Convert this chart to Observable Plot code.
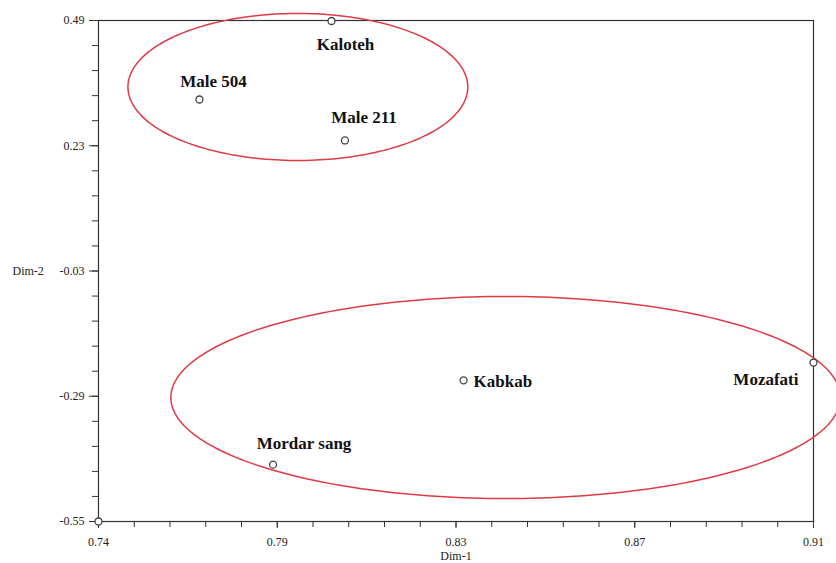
<!DOCTYPE html>
<html><head><meta charset="utf-8">
<script src="https://cdn.jsdelivr.net/npm/d3@7"></script>
<script src="https://cdn.jsdelivr.net/npm/@observablehq/plot@0.6"></script>
<style>
body{margin:0;background:#fff}
#chart svg, #chart svg text { font-family: "Liberation Serif", "DejaVu Serif", serif !important; }
</style>
</head><body><div id="chart"></div>
<script>
// Data
const cultivars = ["Kaloteh", "Male 504", "Male 211", "Kabkab", "Mozafati", "Mordar sang", ""];
const dim1 = [0.7954, 0.7640, 0.7986, 0.8268, 0.9100, 0.7815, 0.7400];
const dim2 = [0.489, 0.326, 0.241, -0.257, -0.220, -0.432, -0.550];

const xTickValues = [0.74, 0.7825, 0.825, 0.8675, 0.91];
const xTickLabels = ["0.74", "0.79", "0.83", "0.87", "0.91"];
const yTickValues = [0.49, 0.23, -0.03, -0.29, -0.55];
const yTickLabels = ["0.49", "0.23", "-0.03", "-0.29", "-0.55"];

// group ellipses (data units)
const groupCx = [0.7874, 0.8368];
const groupCy = [0.352, -0.2926];
const groupRx = [0.0404, 0.0796];
const groupRy = [0.1526, 0.2097];

// label placement (styling)
const labelStyle = {
  "Kaloteh": {dx: 14, dy: 24, anchor: "middle"},
  "Male 504": {dx: 14, dy: -18, anchor: "middle"},
  "Male 211": {dx: 19, dy: -23, anchor: "middle"},
  "Kabkab": {dx: 10, dy: 1, anchor: "start"},
  "Mozafati": {dx: -15, dy: 17, anchor: "end"},
  "Mordar sang": {dx: 31, dy: -21, anchor: "middle"}
};

const serif = "Liberation Serif";
const points = cultivars.map((name, i) => ({name, x: dim1[i], y: dim2[i]}));
const ellipse = [];
groupCx.forEach((cx, g) => {
  for (let k = 0; k <= 240; k++) {
    const t = 2 * Math.PI * k / 240;
    ellipse.push({g, x: cx + groupRx[g] * Math.cos(t), y: groupCy[g] + groupRy[g] * Math.sin(t)});
  }
});
const xMinor = d3.range(21).map(i => 0.74 + i * 0.0085);
const yMinor = d3.range(21).map(i => 0.49 - i * 0.052);

const labelMarks = points.filter(p => p.name).map(p => {
  const s = labelStyle[p.name];
  return Plot.text([p], {x: "x", y: "y", text: "name", dx: s.dx, dy: s.dy, textAnchor: s.anchor,
    fontWeight: "bold", fontSize: 17, fill: "#111", fontFamily: serif});
});

const chart = Plot.plot({
  width: 836, height: 563,
  marginLeft: 98, marginRight: 23, marginTop: 20, marginBottom: 42,
  style: {fontFamily: serif, background: "#fff", color: "#222"},
  x: {domain: [0.74, 0.91]},
  y: {domain: [-0.55, 0.49]},
  marks: [
    Plot.axisX({ticks: xMinor, tickSize: 6, tickFormat: () => "", label: null, stroke: "#333"}),
    Plot.axisX({ticks: xTickValues, tickSize: 7, tickPadding: 9, tickFormat: (d, i) => xTickLabels[i], fontSize: 12, fontFamily: serif, label: null, stroke: "#333"}),
    Plot.axisY({ticks: yMinor, tickSize: 6, tickFormat: () => "", label: null, stroke: "#333"}),
    Plot.axisY({ticks: yTickValues, tickSize: 9, tickPadding: 5, tickFormat: (d, i) => yTickLabels[i], fontSize: 12, fontFamily: serif, label: null, stroke: "#333"}),
    Plot.frame({stroke: "#333", strokeWidth: 1.2}),
    Plot.line(ellipse, {x: "x", y: "y", z: "g", stroke: "#e03a44", strokeWidth: 1.5, clip: false}),
    Plot.dot(points, {x: "x", y: "y", r: 3.5, stroke: "#444", fill: "#fff", strokeWidth: 1.3}),
    ...labelMarks,
    Plot.text(["Dim-2"], {frameAnchor: "left", text: d => d, dx: -86, textAnchor: "start", lineAnchor: "middle", fontSize: 12, fill: "#222", fontFamily: serif}),
    Plot.text(["Dim-1"], {frameAnchor: "bottom", text: d => d, dy: 35, lineAnchor: "middle", fontSize: 12, fill: "#222", fontFamily: serif})
  ]
});
document.getElementById("chart").append(chart);
</script>
</body></html>
